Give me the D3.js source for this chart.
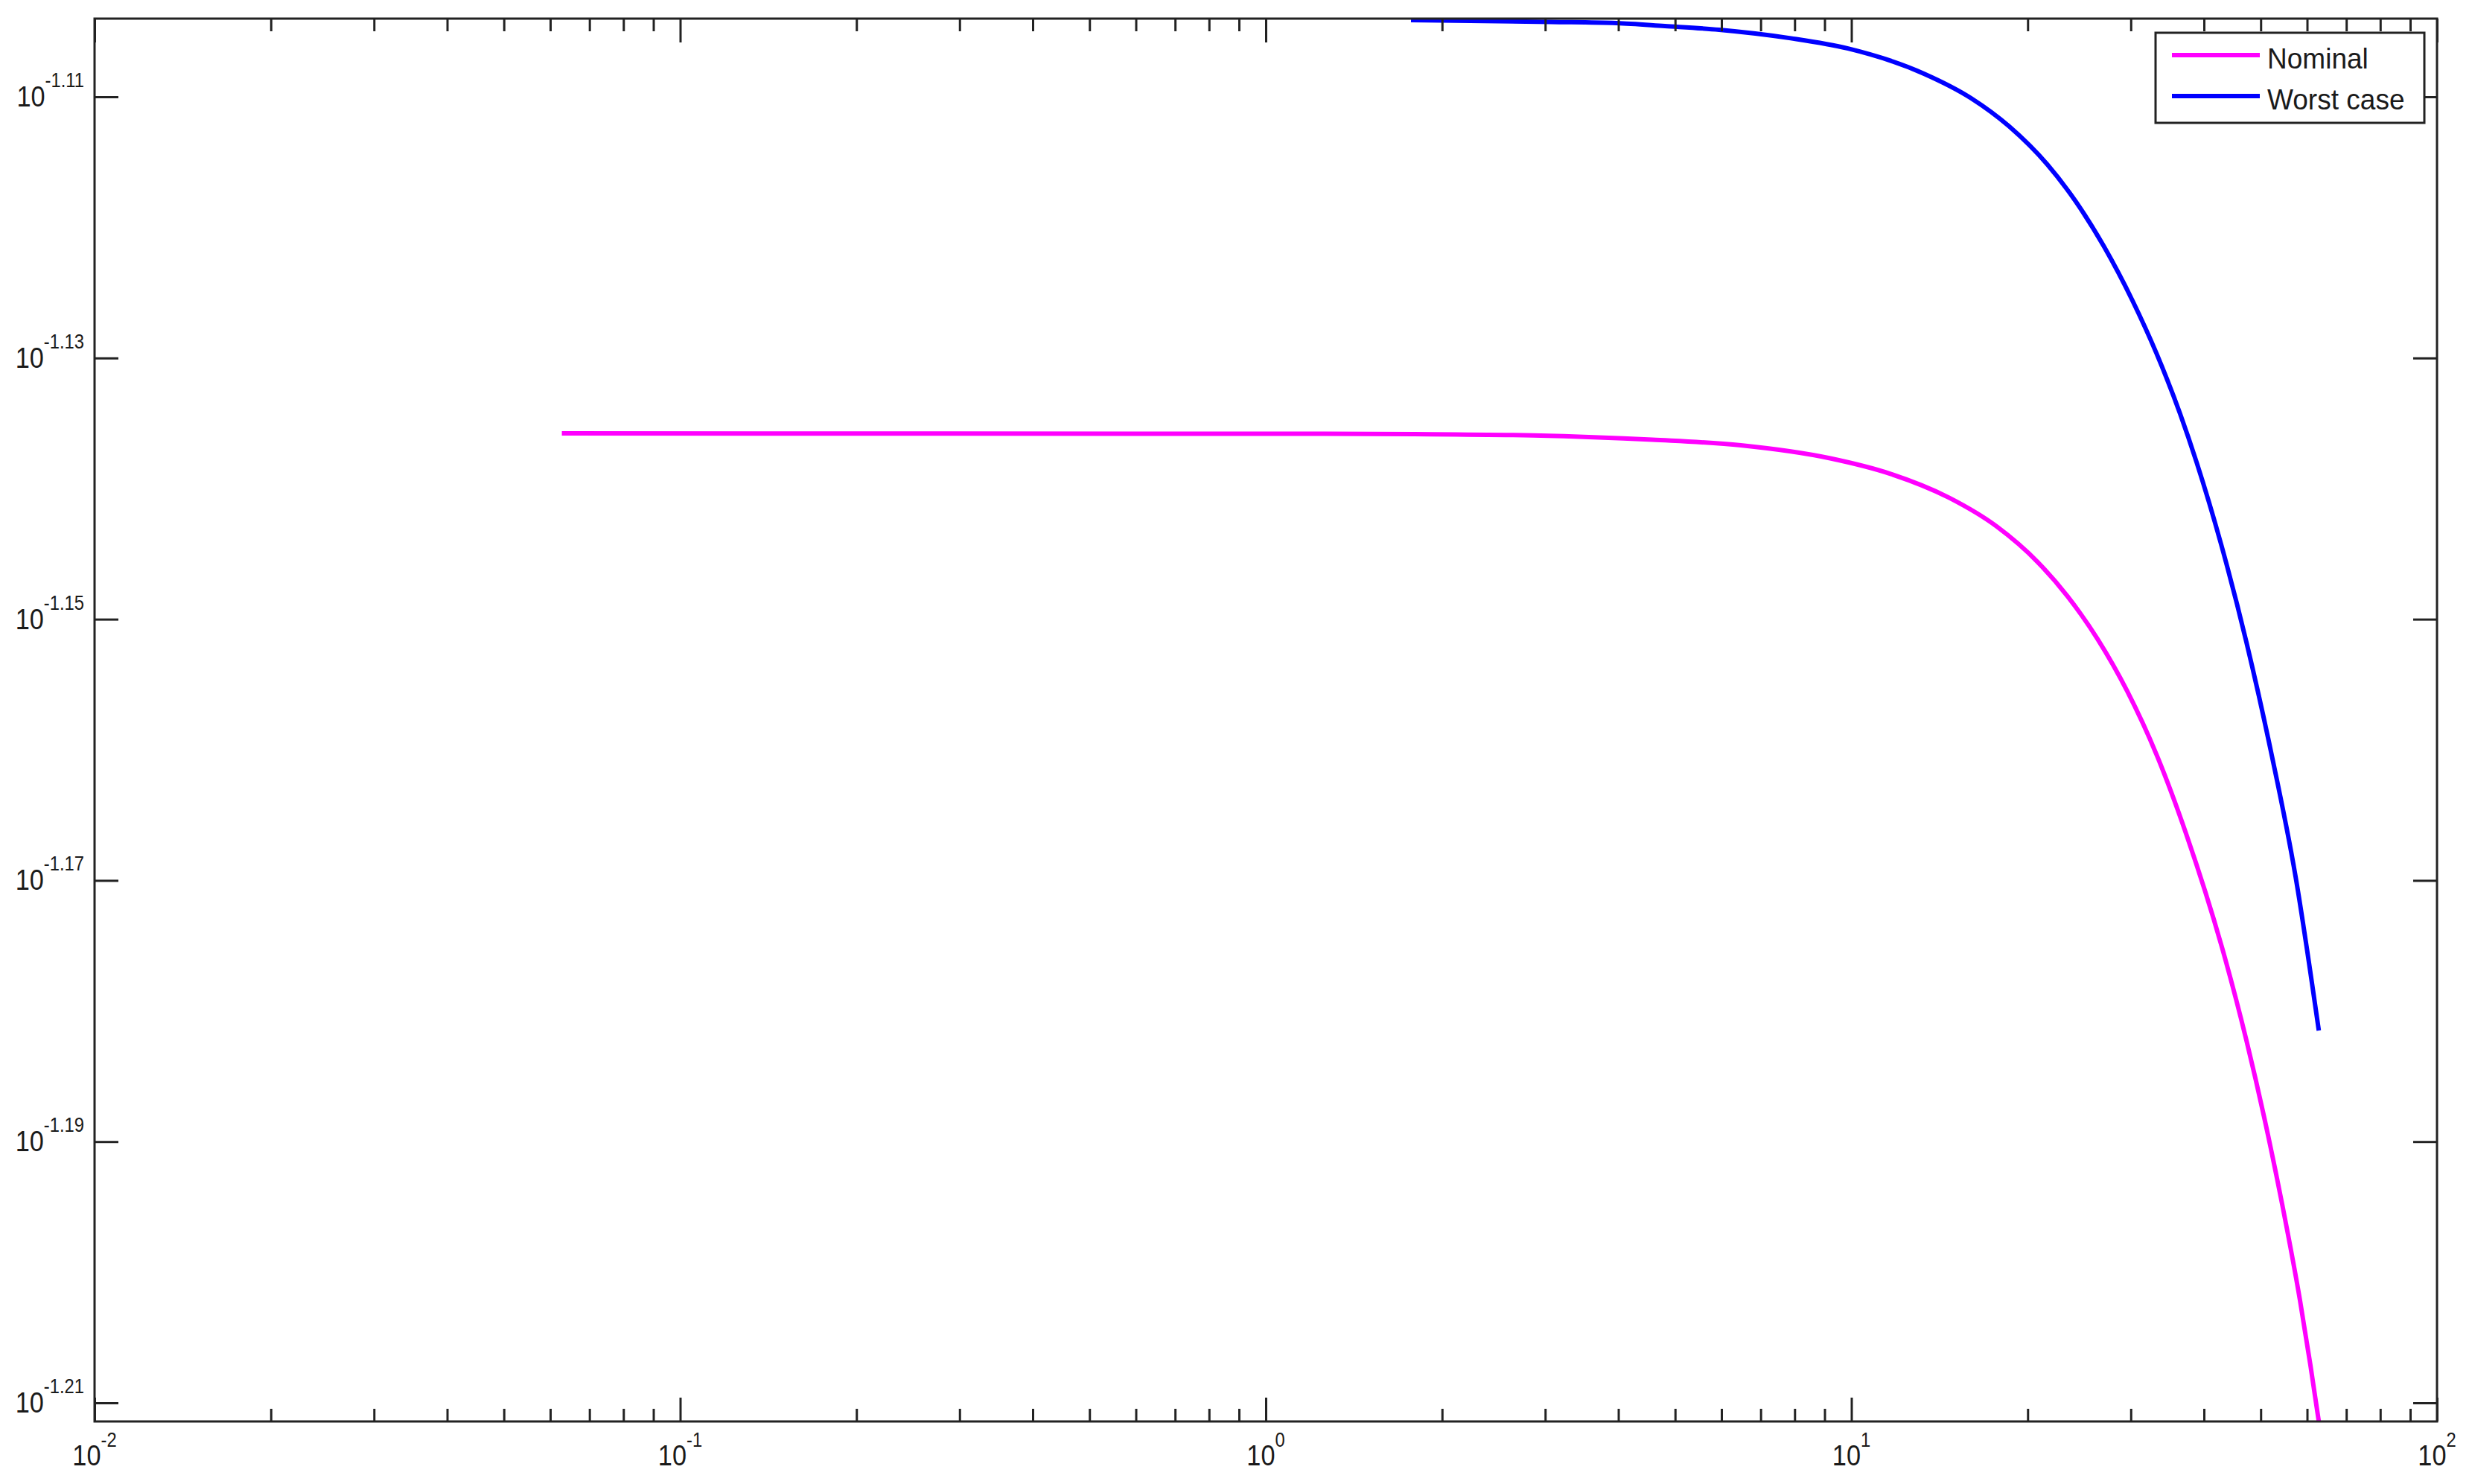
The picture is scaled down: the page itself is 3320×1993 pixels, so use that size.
<!DOCTYPE html>
<html>
<head>
<meta charset="utf-8">
<script src="https://cdn.jsdelivr.net/npm/d3@7"></script>
<style>
  html, body { margin: 0; padding: 0; background: #ffffff; }
  svg { display: block; }
  text { font-family: "Liberation Sans", Arial, Helvetica, sans-serif; fill: #1a1a1a; }
</style>
</head>
<body>
<script>
// ---- Data ----
// Frequencies (x, log axis)
const nominalFreq = [0.0628, 1.182, 1.796, 2.860, 4.570, 6.474, 9.200, 11.63, 14.68, 17.68, 20.83, 23.41, 26.32, 29.59, 33.21, 37.28, 43.42, 47.26, 50.70, 54.39, 58.34, 60.78, 62.83];
// Magnitudes given as base-10 exponents (the y axis is labelled 10^e)
const nominalExp = [-1.13577, -1.135798, -1.135827, -1.135929, -1.13626, -1.136682, -1.13768, -1.138854, -1.140696, -1.142879, -1.14565, -1.148261, -1.151511, -1.155519, -1.160388, -1.166414, -1.175906, -1.182235, -1.188164, -1.194778, -1.202132, -1.207092, -1.211425];

const worstFreq = [1.770, 3.069, 3.971, 4.802, 5.947, 7.878, 9.870, 13.30, 16.00, 18.60, 21.60, 24.17, 27.02, 30.20, 33.17, 36.42, 38.85, 42.80, 47.26, 52.05, 57.35, 62.83];
const worstExp = [-1.104128, -1.10427, -1.104356, -1.104584, -1.104869, -1.105519, -1.106306, -1.108227, -1.110097, -1.112269, -1.115177, -1.118027, -1.121494, -1.12561, -1.129624, -1.134276, -1.137976, -1.144282, -1.151745, -1.16012, -1.169715, -1.181494];

const seriesNames = ["Nominal", "Worst case"];
const seriesColors = ["#ff00ff", "#0000ff"];

// Axis limits and ticks
const xLimits = [0.01, 100];
const yLimitExp = [-1.211425, -1.104014];
const xTickExp = [-2, -1, 0, 1, 2];
const xTickLabels = ["-2", "-1", "0", "1", "2"];
const yTickExp = [-1.11, -1.13, -1.15, -1.17, -1.19, -1.21];
const yTickLabels = ["-1.11", "-1.13", "-1.15", "-1.17", "-1.19", "-1.21"];

// ---- Layout ----
const W = 3320, H = 1993;
const L = 127, T = 25, R = 3273, B = 1909;
const majorLen = 32, minorLen = 17;
const axisColor = "#222222";

const svg = d3.select("body").append("svg")
  .attr("width", W).attr("height", H)
  .attr("viewBox", `0 0 ${W} ${H}`);

svg.append("rect").attr("width", W).attr("height", H).attr("fill", "#ffffff");

const x = d3.scaleLog().domain(xLimits).range([L, R]);
const y = d3.scaleLog().domain(yLimitExp.map(e => Math.pow(10, e))).range([B, T]);

svg.append("defs").append("clipPath").attr("id", "plotclip")
  .append("rect").attr("x", L).attr("y", T).attr("width", R - L).attr("height", B - T);

const series = [
  nominalFreq.map((f, i) => ({ f, v: Math.pow(10, nominalExp[i]) })),
  worstFreq.map((f, i) => ({ f, v: Math.pow(10, worstExp[i]) }))
];

const line = d3.line()
  .x(d => x(d.f))
  .y(d => y(d.v))
  .curve(d3.curveMonotoneX);

const plot = svg.append("g").attr("clip-path", "url(#plotclip)");
series.forEach((s, i) => {
  plot.append("path")
    .datum(s)
    .attr("d", line)
    .attr("fill", "none")
    .attr("stroke", seriesColors[i])
    .attr("stroke-width", 6)
    .attr("stroke-linejoin", "round")
    .attr("stroke-linecap", "butt");
});

// ---- Axes ----
const minorX = [];
for (let d = -2; d < 2; d++) for (let k = 2; k <= 9; k++) minorX.push(k * Math.pow(10, d));
const majorX = xTickExp.map(e => Math.pow(10, e));
const majorY = yTickExp.map(e => Math.pow(10, e));

function tickLines(g, axisGen) {
  g.call(axisGen);
  g.select(".domain").remove();
  g.selectAll("text").remove();
  g.selectAll("line").attr("stroke", axisColor).attr("stroke-width", 3);
}

svg.append("g").attr("transform", `translate(0,${B})`)
  .call(g => tickLines(g, d3.axisTop(x).tickValues(minorX).tickSize(minorLen)));
svg.append("g").attr("transform", `translate(0,${B})`)
  .call(g => tickLines(g, d3.axisTop(x).tickValues(majorX).tickSize(majorLen)));
svg.append("g").attr("transform", `translate(0,${T})`)
  .call(g => tickLines(g, d3.axisBottom(x).tickValues(minorX).tickSize(minorLen)));
svg.append("g").attr("transform", `translate(0,${T})`)
  .call(g => tickLines(g, d3.axisBottom(x).tickValues(majorX).tickSize(majorLen)));
svg.append("g").attr("transform", `translate(${L},0)`)
  .call(g => tickLines(g, d3.axisRight(y).tickValues(majorY).tickSize(majorLen)));
svg.append("g").attr("transform", `translate(${R},0)`)
  .call(g => tickLines(g, d3.axisLeft(y).tickValues(majorY).tickSize(majorLen)));

svg.append("rect")
  .attr("x", L).attr("y", T).attr("width", R - L).attr("height", B - T)
  .attr("fill", "none").attr("stroke", axisColor).attr("stroke-width", 3);

// tick labels (slightly condensed, like the reference font)
const baseSize = 39, supSize = 27, sx = 0.88;
majorX.forEach((v, i) => {
  const g = svg.append("g").attr("transform", `translate(${x(v)},${B + 59}) scale(${sx},1)`);
  const t = g.append("text").attr("text-anchor", "middle");
  t.append("tspan").attr("font-size", baseSize).text("10");
  t.append("tspan").attr("font-size", supSize).attr("dy", -25).text(xTickLabels[i]);
});
majorY.forEach((v, i) => {
  const g = svg.append("g").attr("transform", `translate(113,${y(v) + 13}) scale(${sx},1)`);
  const t = g.append("text").attr("text-anchor", "end");
  t.append("tspan").attr("font-size", baseSize).text("10");
  t.append("tspan").attr("font-size", supSize).attr("dy", -26).text(yTickLabels[i]);
});

// ---- Legend ----
const lg = svg.append("g");
lg.append("rect")
  .attr("x", 2895).attr("y", 44).attr("width", 361).attr("height", 121)
  .attr("fill", "#ffffff").attr("stroke", axisColor).attr("stroke-width", 3);
seriesNames.forEach((name, i) => {
  const cy = 74 + i * 55;
  lg.append("line")
    .attr("x1", 2917).attr("x2", 3035).attr("y1", cy).attr("y2", cy)
    .attr("stroke", seriesColors[i]).attr("stroke-width", 6);
  lg.append("g").attr("transform", `translate(3045,${cy + 18}) scale(0.95,1)`)
    .append("text")
    .attr("font-size", 39)
    .text(name);
});
</script>
</body>
</html>
